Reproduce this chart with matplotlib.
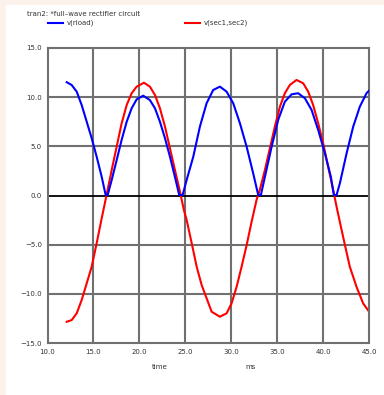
import matplotlib
matplotlib.use("Agg")
import matplotlib.pyplot as plt
from matplotlib.patches import Rectangle

# values (time in ms, volts)
t_rload = [12.09, 12.63, 13.18, 13.72, 14.27, 14.81, 15.35, 15.90, 16.33, 16.55,
           16.99, 17.53, 18.07, 18.62, 19.16, 19.71, 20.42, 21.15, 21.70, 22.24,
           22.79, 23.33, 23.87, 24.34, 24.71, 25.15, 25.87, 26.59, 27.32, 28.04,
           28.77, 29.50, 30.22, 30.95, 31.68, 32.39, 32.94, 33.23, 33.67, 34.40,
           35.11, 35.84, 36.57, 37.29, 38.02, 38.75, 39.47, 40.20, 40.85, 41.17,
           41.47, 41.83, 42.56, 43.28, 44.00, 44.73, 45.00]
v_rload = [11.52, 11.24, 10.56, 9.20, 7.50, 5.82, 3.95, 1.90, 0.05, 0.05,
           1.58, 3.60, 5.65, 7.50, 8.87, 9.78, 10.15, 9.70, 8.87, 7.50,
           5.82, 3.95, 1.90, 0.05, 0.05, 1.58, 3.95, 7.00, 9.38, 10.73,
           11.07, 10.56, 9.38, 7.34, 4.96, 2.26, 0.05, 0.05, 1.90, 4.96,
           7.68, 9.54, 10.29, 10.40, 9.89, 8.70, 6.66, 4.29, 1.90, 0.05,
           0.05, 1.24, 4.29, 7.00, 9.03, 10.40, 10.66]

t_sec = [12.09, 12.63, 13.18, 13.72, 14.27, 14.81, 15.35, 15.90, 16.44, 16.99,
         17.53, 18.07, 18.62, 19.16, 19.71, 20.50, 21.15, 21.70, 22.24, 22.79,
         23.33, 23.87, 24.42, 24.85, 25.15, 25.70, 26.24, 26.78, 27.30, 27.87,
         28.77, 29.50, 30.04, 30.59, 31.13, 31.68, 32.22, 32.77, 33.12, 33.67,
         34.21, 34.75, 35.30, 35.84, 36.38, 37.11, 37.84, 38.38, 38.92, 39.47,
         40.01, 40.55, 41.10, 41.47, 41.83, 42.37, 42.91, 43.64, 44.36, 45.00]
v_sec = [-12.84, -12.67, -11.98, -10.63, -8.93, -7.24, -4.86, -2.32, 0.10, 2.60,
         4.96, 7.34, 9.20, 10.40, 11.07, 11.47, 11.07, 10.22, 8.87, 7.00,
         4.80, 2.60, 0.39, -1.48, -2.49, -4.86, -7.24, -9.10, -10.40, -11.82,
         -12.33, -11.98, -10.97, -9.28, -7.24, -5.04, -2.67, -0.40, 0.60, 2.60,
         4.80, 7.00, 9.03, 10.40, 11.24, 11.75, 11.41, 10.56, 9.20, 7.34,
         5.31, 2.93, 0.56, -1.14, -2.70, -5.00, -7.24, -9.28, -10.97, -11.80]

x_ticks = [10, 15, 20, 25, 30, 35, 40, 45]
y_ticks = [-15, -10, -5, 0, 5, 10, 15]

fig = plt.figure(figsize=(3.84, 3.95), dpi=100)
fig.patch.set_facecolor("#fdf1ec")
# white panel, pink strip left and top
fig.patches.append(Rectangle((6 / 384, 0), 1, 1 - 5 / 395, transform=fig.transFigure,
                             facecolor="white", edgecolor="none", zorder=-5))

ax = fig.add_axes([47.5 / 384, 1 - 343 / 395, (369 - 47.5) / 384, (343 - 48) / 395])
ax.set_zorder(2)
ax.set_facecolor("white")
grid_c = "#707070"

for x in x_ticks[1:-1]:
    ax.axvline(x, color=grid_c, lw=1.5, zorder=1)
for y in y_ticks[1:-1]:
    if y == 0:
        ax.axhline(y, color="black", lw=1.3, zorder=1)
    else:
        ax.axhline(y, color=grid_c, lw=1.5, zorder=1)

ax.plot(t_rload, v_rload, color="#0000ff", lw=1.5, zorder=3)
ax.plot(t_sec, v_sec, color="#ff0000", lw=1.5, zorder=2)

ax.set_xlim(10, 45)
ax.set_ylim(-15, 15)
for s in ax.spines.values():
    s.set_color(grid_c)
    s.set_linewidth(1.5)

ax.set_xticks(x_ticks)
ax.set_yticks(y_ticks)
ax.set_xticklabels([f"{v:.1f}" for v in x_ticks])
ax.set_yticklabels([f"{v:.1f}".replace("-", "\u2212") for v in y_ticks])
ax.tick_params(length=0, labelsize=5, colors="#333333", pad=4)

fig.text(160 / 384, 1 - 367 / 395, "time", fontsize=5, color="#333333", ha="center", va="center")
fig.text(251 / 384, 1 - 367 / 395, "ms", fontsize=5, color="#333333", ha="center", va="center")

fig.text(27 / 384, 1 - 14 / 395, "tran2: *full\u2013wave rectifier circuit", fontsize=5,
         color="#333333", ha="left", va="center")
fig.add_artist(plt.Line2D([48 / 384, 63 / 384], [1 - 22.5 / 395] * 2, color="#0000ff", lw=1.5))
fig.text(67 / 384, 1 - 22.5 / 395, "v(rload)", fontsize=5, color="#333333", ha="left", va="center")
fig.add_artist(plt.Line2D([185 / 384, 200 / 384], [1 - 22.5 / 395] * 2, color="#ff0000", lw=1.5))
fig.text(204 / 384, 1 - 22.5 / 395, "v(sec1,sec2)", fontsize=5, color="#333333", ha="left", va="center")

fig.savefig("out.png", dpi=100)
